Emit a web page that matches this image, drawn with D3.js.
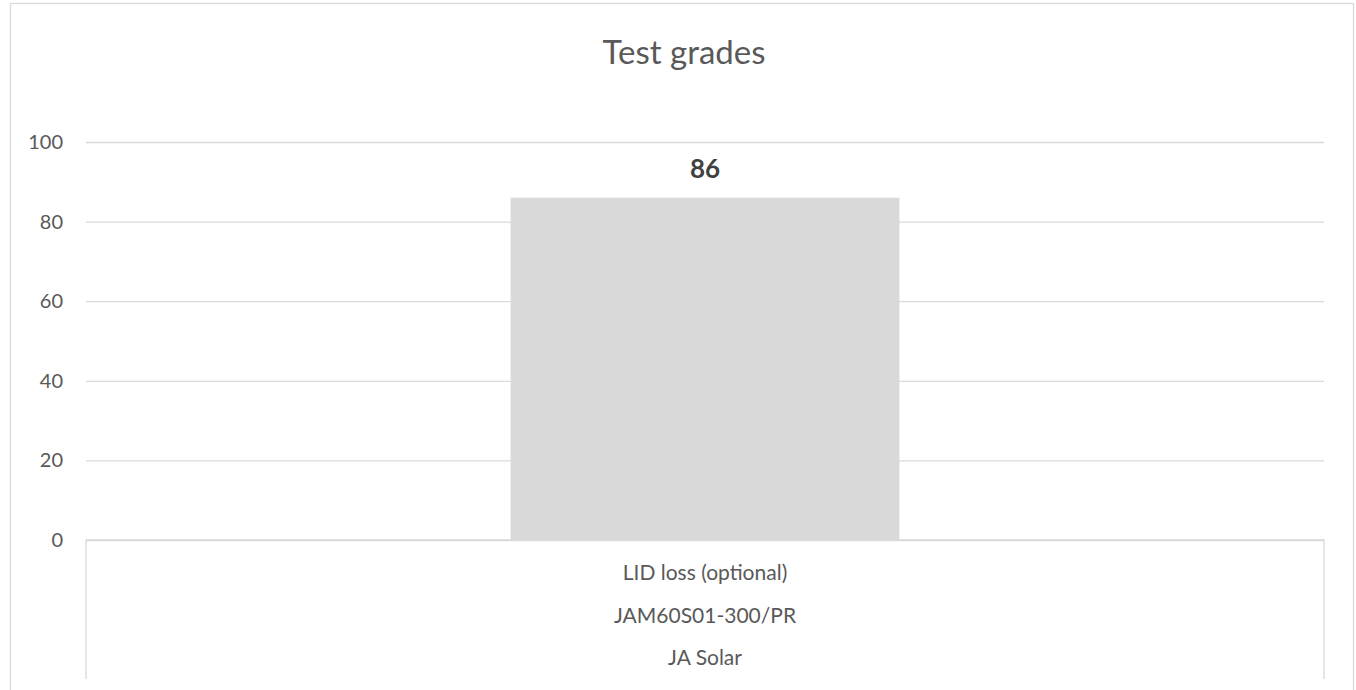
<!DOCTYPE html>
<html>
<head>
<meta charset="utf-8">
<script src="https://cdn.jsdelivr.net/npm/d3@7"></script>
<style>
  body { margin: 0; background: #fff; }
  #chart { width: 1356px; height: 690px; }
  text { font-family: Lato, "Open Sans", sans-serif; }
</style>
</head>
<body>
<div id="chart"></div>
<script>
const TITLE = 'Test grades';
const categories = ['LID loss (optional)'];
const models = ['JAM60S01-300/PR'];
const makers = ['JA Solar'];
const grades = [86];
const yTicks = [0, 20, 40, 60, 80, 100];

const AREA_WIDTH = 1356;
const AREA_HEIGHT = 690;
const MARGIN = { TOP: 142, RIGHT: 32, BOTTOM: 150, LEFT: 86 };
const WIDTH = 1324 - MARGIN.LEFT;
const HEIGHT = 540 - MARGIN.TOP;
const GRID = '#d9d9d9';
const TEXT = '#595959';

const root = d3.select('#chart')
  .append('svg')
  .attr('width', AREA_WIDTH)
  .attr('height', AREA_HEIGHT);

// chart frame (runs off the bottom of the picture)
root.append('rect')
  .attr('x', 10.5)
  .attr('y', 3.5)
  .attr('width', 1343)
  .attr('height', 700)
  .attr('fill', 'none')
  .attr('stroke', GRID)
  .attr('stroke-width', 1.3);

root.append('text')
  .attr('x', 684)
  .attr('y', 64)
  .attr('text-anchor', 'middle')
  .attr('fill', TEXT)
  .style('font-size', '33px')
  .text(TITLE);

const svg = root.append('g')
  .attr('transform', `translate(${MARGIN.LEFT},${MARGIN.TOP})`);

const x = d3.scaleBand()
  .domain(categories)
  .range([0, WIDTH])
  .padding(0.522);

const y = d3.scaleLinear()
  .domain([0, 100])
  .range([HEIGHT, 0]);

// gridlines + tick labels
const yAxis = svg.append('g')
  .call(d3.axisLeft(y).tickValues(yTicks).tickSize(-WIDTH).tickPadding(23));
yAxis.select('.domain').remove();
yAxis.selectAll('.tick line')
  .attr('stroke', GRID)
  .attr('stroke-width', 1.3);
yAxis.selectAll('.tick text')
  .attr('fill', TEXT)
  .style('font-size', '20px')
  .style('font-family', 'Lato, "Open Sans", sans-serif');

// bars
svg.selectAll('rect.bar')
  .data(grades)
  .enter()
  .append('rect')
  .attr('class', 'bar')
  .attr('x', (d, i) => x(categories[i]))
  .attr('y', d => y(d))
  .attr('width', x.bandwidth())
  .attr('height', d => HEIGHT - y(d))
  .attr('fill', '#d9d9d9');

svg.selectAll('text.value')
  .data(grades)
  .enter()
  .append('text')
  .attr('class', 'value')
  .attr('x', (d, i) => x(categories[i]) + x.bandwidth() / 2)
  .attr('y', d => y(d) - 20)
  .attr('text-anchor', 'middle')
  .attr('fill', '#404040')
  .style('font-size', '26px')
  .style('font-weight', 'bold')
  .text(d => d);

// multi-level category axis box
const axisBox = svg.append('g').attr('transform', `translate(0,${HEIGHT})`);
axisBox.append('path')
  .attr('d', `M0,139V0H${WIDTH}V139`)
  .attr('fill', 'none')
  .attr('stroke', GRID)
  .attr('stroke-width', 1.3);

const levels = [categories, models, makers];
levels.forEach((labels, li) => {
  axisBox.selectAll(`text.lvl${li}`)
    .data(labels)
    .enter()
    .append('text')
    .attr('class', `lvl${li}`)
    .attr('x', d => WIDTH / 2)
    .attr('y', 40 + li * 42.5)
    .attr('text-anchor', 'middle')
    .attr('fill', TEXT)
    .style('font-size', '21px')
    .text(d => d);
});
</script>
</body>
</html>
